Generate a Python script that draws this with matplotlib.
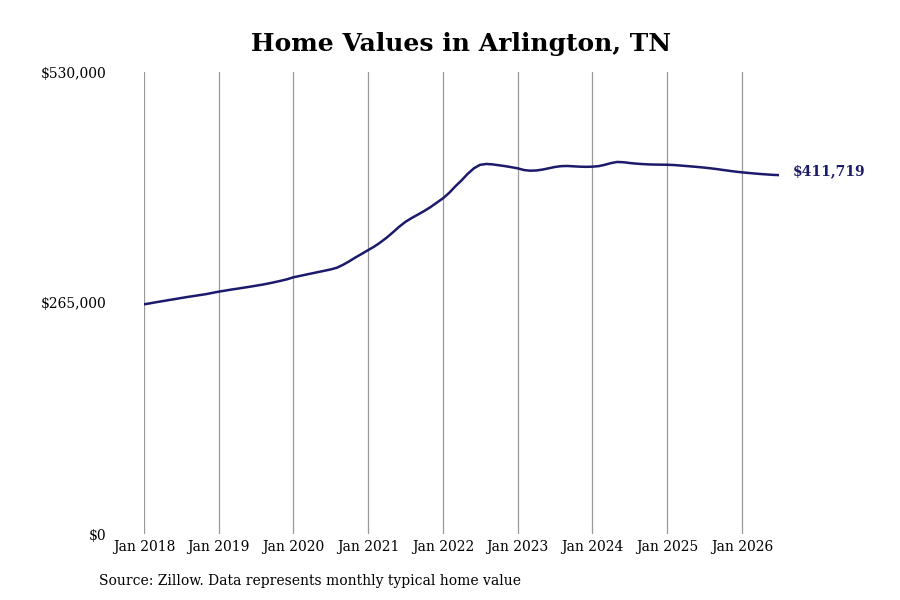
import numpy as np
import pandas as pd
import matplotlib
matplotlib.use("Agg")
import matplotlib.pyplot as plt
import matplotlib.dates as mdates
import matplotlib.ticker as ticker

plt.rcParams['font.family'] = ['DejaVu Serif']

# Monthly typical home value (thousands of $), Jan 2018 .. Jul 2026
v2018 = [263.5, 264.7, 265.9, 267.1, 268.3, 269.5, 270.7, 271.9, 273.0, 274.1, 275.2, 276.6]
v2019 = [278.0, 279.2, 280.3, 281.4, 282.5, 283.6, 284.8, 286.0, 287.4, 288.9, 290.5, 292.2]
v2020 = [294.5, 296.0, 297.5, 299.0, 300.5, 302.0, 303.5, 305.5, 309.0, 313.0, 317.5, 321.5]
v2021 = [325.8, 330.0, 334.5, 340.0, 346.0, 352.5, 358.0, 362.5, 366.5, 370.5, 375.0, 380.0]
v2022 = [385.1, 391.5, 398.5, 405.5, 413.0, 419.5, 423.5, 424.5, 424.0, 423.0, 422.0, 420.8]
v2023 = [419.5, 417.5, 416.8, 417.0, 418.0, 419.5, 421.0, 422.0, 422.2, 421.8, 421.4, 421.2]
v2024 = [421.4, 422.0, 423.5, 425.5, 426.8, 426.5, 425.6, 424.9, 424.4, 424.0, 423.8, 423.7]
v2025 = [423.6, 423.3, 422.8, 422.2, 421.6, 421.0, 420.3, 419.5, 418.6, 417.6, 416.6, 415.7]
v2026 = [414.9, 414.2, 413.6, 413.0, 412.5, 412.0, 411.719]

values = np.array(v2018 + v2019 + v2020 + v2021 + v2022 + v2023 + v2024 + v2025 + v2026) * 1000
dates = pd.date_range("2018-01-01", periods=len(values), freq="MS")

title = "Home Values in Arlington, TN"
source = "Source: Zillow. Data represents monthly typical home value"
ytick_vals = [0, 265000, 530000]
xtick_years = list(range(2018, 2027))
line_color = "#1c1a6b"

fig = plt.figure(figsize=(9, 6), dpi=100)
ax = fig.add_axes([144/900, 66/600, (779-144)/900, 462/600])

ax.plot(dates, values, color=line_color, linewidth=1.8, solid_capstyle="round")
ax.set_xlim(dates[0], dates[-1])
ax.set_ylim(0, 530000)

ax.set_xticks([pd.Timestamp(f"{y}-01-01") for y in xtick_years])
ax.xaxis.set_major_formatter(mdates.DateFormatter("Jan %Y"))
ax.set_yticks(ytick_vals)
ax.yaxis.set_major_formatter(ticker.FuncFormatter(lambda v, p: f"${v:,.0f}"))
ax.tick_params(axis="y", length=0, pad=27, labelsize=10)
ax.tick_params(axis="x", length=0, pad=4, labelsize=10)
ax.grid(axis="x", color="#999999", linewidth=0.9)
ax.set_axisbelow(True)
for s in ax.spines.values():
    s.set_visible(False)

ax.annotate(f"${values[-1]:,.0f}", xy=(dates[-1], values[-1]), xytext=(10, 3),
            textcoords="offset points", ha="left", va="center",
            fontsize=10, fontweight="bold", color=line_color)

ax.set_title(title, fontsize=18, fontweight="bold", pad=15)
fig.text(99/900, 1 - 581/600, source, fontsize=10, ha="left", va="center")

fig.savefig("out.png", dpi=100, facecolor="white")
